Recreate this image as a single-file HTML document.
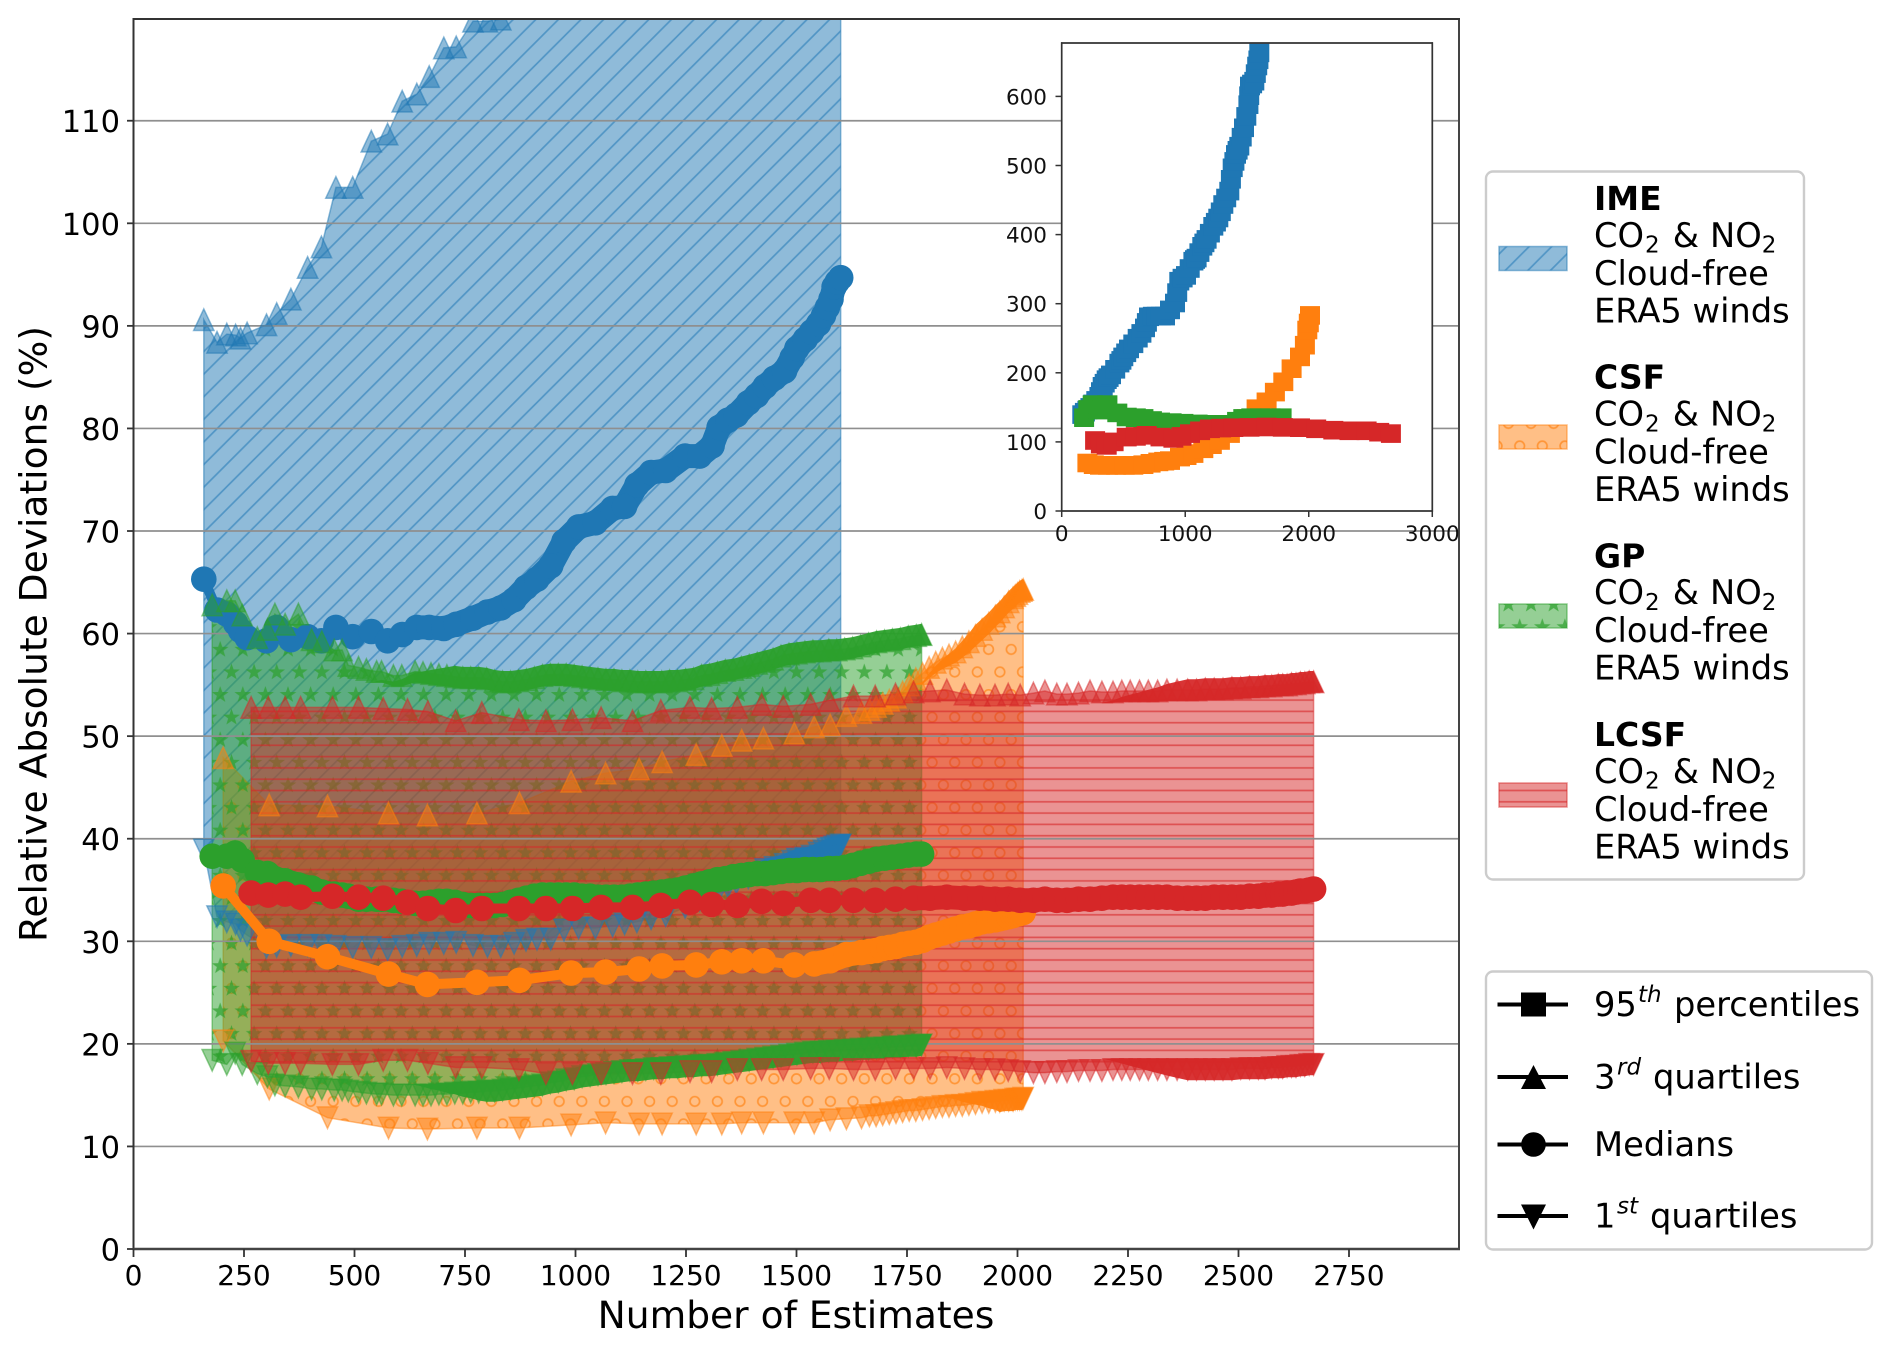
<!DOCTYPE html>
<html lang="en">
<head>
<meta charset="utf-8">
<title>Relative Absolute Deviations vs Number of Estimates</title>
<style>
html,body{margin:0;padding:0;background:#fff;}
svg{display:block;font-family:"DejaVu Sans","Liberation Sans",sans-serif;fill:#000;}
.tick-x{font-size:28px;}
.tick-y{font-size:30.5px;}
.inset-tick{font-size:21.5px;fill:#111;}
.axis-title{font-size:37.6px;}
.leg{font-size:33.7px;}
.leg-b{font-size:33px;font-weight:bold;}
.sub{font-size:23px;}
.sup{font-size:23px;font-style:italic;}
</style>
</head>
<body>
<svg id="chart" xmlns="http://www.w3.org/2000/svg" width="1892" height="1348" viewBox="0 0 1892 1348">
<defs>
<clipPath id="main-clip"><rect x="133.5" y="19" width="1326" height="1230"/></clipPath>
<clipPath id="inset-clip"><rect x="1061.7" y="43" width="370.6" height="468"/></clipPath>
<pattern id="hatch-ime" patternUnits="userSpaceOnUse" width="22.6" height="22.6" x="0" y="12.9">
<path d="M-3 25.6L25.6 -3M-3 3L3 -3M19.6 25.6L25.6 19.6" stroke="#1f77b4" stroke-opacity=".55" stroke-width="1.7" fill="none"/>
</pattern>
<pattern id="hatch-csf" patternUnits="userSpaceOnUse" width="22.6" height="45.2" x="853" y="660.7">
<g fill="none" stroke="#ff7f0e" stroke-opacity=".65" stroke-width="1.7">
<circle cx="11.3" cy="11.3" r="4.8"/><circle cx="0" cy="33.9" r="4.8"/><circle cx="22.6" cy="33.9" r="4.8"/>
</g>
</pattern>
<pattern id="hatch-gp" patternUnits="userSpaceOnUse" width="22.6" height="45.2" x="853" y="660.7">
<g fill="#2ca02c" fill-opacity=".7">
<path transform="translate(11.3,11.3) scale(1.15)" d="M0 -7.5L1.8 -2.3L7.3 -2.2L2.9 1.1L4.5 6.4L0 3.3L-4.5 6.4L-2.9 1.1L-7.3 -2.2L-1.8 -2.3Z"/>
<path transform="translate(0,33.9) scale(1.15)" d="M0 -7.5L1.8 -2.3L7.3 -2.2L2.9 1.1L4.5 6.4L0 3.3L-4.5 6.4L-2.9 1.1L-7.3 -2.2L-1.8 -2.3Z"/>
<path transform="translate(22.6,33.9) scale(1.15)" d="M0 -7.5L1.8 -2.3L7.3 -2.2L2.9 1.1L4.5 6.4L0 3.3L-4.5 6.4L-2.9 1.1L-7.3 -2.2L-1.8 -2.3Z"/>
</g>
</pattern>
<pattern id="hatch-lcsf" patternUnits="userSpaceOnUse" width="22.6" height="11.3" x="0" y="739.65">
<path d="M0 5.65H22.6" stroke="#d62728" stroke-opacity=".6" stroke-width="1.6"/>
</pattern>
</defs>

<rect x="0" y="0" width="1892" height="1348" fill="#fff"/>
<g id="fills" clip-path="url(#main-clip)"></g>
<g id="grid"></g>
<g id="lines" clip-path="url(#main-clip)"></g>
<g id="axes"></g>

<text class="axis-title" x="796" y="1328" text-anchor="middle">Number of Estimates</text>
<text class="axis-title" transform="translate(46.6,634) rotate(-90)" text-anchor="middle">Relative Absolute Deviations (%)</text>

<g id="inset">
<rect x="1061.7" y="43" width="370.6" height="468" fill="#fff"/>
<g id="inset-marks" clip-path="url(#inset-clip)"></g>
<g id="inset-axes"></g>
</g>

<g>
<rect x="1486" y="171.5" width="318" height="708" rx="7" fill="#fff" stroke="#ccc" stroke-width="2.4"/>

<g>
<rect x="1499" y="246.5" width="68" height="24" fill="#1f77b4" fill-opacity=".5" stroke="#1f77b4" stroke-opacity=".5" stroke-width="1.5"/>
<rect x="1499" y="246.5" width="68" height="24" fill="url(#hatch-ime)"/>
<text class="leg-b" x="1594" y="210">IME</text>
<text class="leg" x="1594" y="247"><tspan>CO</tspan><tspan class="sub" x="1645" y="252.7">2</tspan><tspan x="1672.7" y="247">&amp;</tspan><tspan x="1710" y="247">NO</tspan><tspan class="sub" x="1761.7" y="252.7">2</tspan></text>
<text class="leg" x="1594" y="285">Cloud-free</text>
<text class="leg" x="1594" y="322.5">ERA5 winds</text>
</g>

<g>
<rect x="1499" y="425" width="68" height="24" fill="#ff7f0e" fill-opacity=".5" stroke="#ff7f0e" stroke-opacity=".5" stroke-width="1.5"/>
<rect x="1499" y="425" width="68" height="24" fill="url(#hatch-csf)"/>
<text class="leg-b" x="1594" y="388.6">CSF</text>
<text class="leg" x="1594" y="425.6"><tspan>CO</tspan><tspan class="sub" x="1645" y="431.3">2</tspan><tspan x="1672.7" y="425.6">&amp;</tspan><tspan x="1710" y="425.6">NO</tspan><tspan class="sub" x="1761.7" y="431.3">2</tspan></text>
<text class="leg" x="1594" y="463.6">Cloud-free</text>
<text class="leg" x="1594" y="501.1">ERA5 winds</text>
</g>

<g>
<rect x="1499" y="604" width="68" height="24" fill="#2ca02c" fill-opacity=".5" stroke="#2ca02c" stroke-opacity=".5" stroke-width="1.5"/>
<rect x="1499" y="604" width="68" height="24" fill="url(#hatch-gp)"/>
<text class="leg-b" x="1594" y="567.6">GP</text>
<text class="leg" x="1594" y="604.2"><tspan>CO</tspan><tspan class="sub" x="1645" y="609.9">2</tspan><tspan x="1672.7" y="604.2">&amp;</tspan><tspan x="1710" y="604.2">NO</tspan><tspan class="sub" x="1761.7" y="609.9">2</tspan></text>
<text class="leg" x="1594" y="642.2">Cloud-free</text>
<text class="leg" x="1594" y="679.7">ERA5 winds</text>
</g>

<g>
<rect x="1499" y="783" width="68" height="24" fill="#d62728" fill-opacity=".5" stroke="#d62728" stroke-opacity=".5" stroke-width="1.5"/>
<rect x="1499" y="783" width="68" height="24" fill="url(#hatch-lcsf)"/>
<text class="leg-b" x="1594" y="745.8">LCSF</text>
<text class="leg" x="1594" y="782.8"><tspan>CO</tspan><tspan class="sub" x="1645" y="788.5">2</tspan><tspan x="1672.7" y="782.8">&amp;</tspan><tspan x="1710" y="782.8">NO</tspan><tspan class="sub" x="1761.7" y="788.5">2</tspan></text>
<text class="leg" x="1594" y="820.8">Cloud-free</text>
<text class="leg" x="1594" y="858.3">ERA5 winds</text>
</g>
</g>

<g>
<rect x="1486" y="971.5" width="386" height="278" rx="7" fill="#fff" stroke="#ccc" stroke-width="2.4"/>

<g>
<path d="M1497.5 1004.5H1568" stroke="#000" stroke-width="4"/>
<rect x="1521" y="992.5" width="25" height="24" fill="#000"/>
<text class="leg" x="1594" y="1016"><tspan>95</tspan><tspan class="sup" x="1638" y="1002">th</tspan><tspan x="1674" y="1016">percentiles</tspan></text>
</g>
<g>
<path d="M1497.5 1077H1568" stroke="#000" stroke-width="4"/>
<path d="M1533.5 1065L1546 1089H1521Z" fill="#000"/>
<text class="leg" x="1594" y="1088.5"><tspan>3</tspan><tspan class="sup" x="1617" y="1074.5">rd</tspan><tspan x="1653" y="1088.5">quartiles</tspan></text>
</g>
<g>
<path d="M1497.5 1144.5H1568" stroke="#000" stroke-width="4"/>
<circle cx="1533.5" cy="1144.5" r="12.3" fill="#000"/>
<text class="leg" x="1594" y="1156">Medians</text>
</g>
<g>
<path d="M1497.5 1216H1568" stroke="#000" stroke-width="4"/>
<path d="M1521 1204.5H1546L1533.5 1229.5Z" fill="#000"/>
<text class="leg" x="1594" y="1227.5"><tspan>1</tspan><tspan class="sup" x="1617" y="1213.5">st</tspan><tspan x="1650" y="1227.5">quartiles</tspan></text>
</g>
</g>
</svg>

<script>
// ---- axis ticks ----
const xTickValues = [0,250,500,750,1000,1250,1500,1750,2000,2250,2500,2750];
const yTickValues = [0,10,20,30,40,50,60,70,80,90,100,110];
const insetXTicks = [0,1000,2000,3000];
const insetYTicks = [0,100,200,300,400,500,600];

// ---- IME ----
const imeX = [159,189,211,231,242,257,301,324,356,394,425,458,496,538,575,608,641,669,702,730,768,801,831,861,888,913,944,974,1007,1045,1084,1111,1139,1171,1204,1248,1281,1309,1325,1345,1364,1391,1410,1429,1450,1473,1490,1501,1520,1534,1550,1561,1570,1578,1585,1592,1600];
const imeQ3 = [90.6,88.4,89.2,89.1,88.8,89.3,90.1,91.2,92.6,95.7,97.7,103.5,103.5,108,108.7,111.9,112.6,114.3,117.1,117.2,119.7,119.7,119.9,121,123,125,127,129,131,134,137,139,141,144,147,150,153,155,157,159,161,163,165,167,169,172,174,175,178,180,182,184,185,186,187,188,189];
const imeMedian = [65.3,62.3,61.9,61,60.3,59.6,59.3,60.6,59.4,59.7,59.3,60.6,59.7,60.2,59.3,59.9,60.6,60.6,60.5,60.9,61.5,62.1,62.5,63.3,64.5,65.3,66.6,69,70.4,70.8,72.2,72.4,74.5,75.7,75.9,77.3,77.3,78.3,80.1,80.8,81.3,82.5,83.2,84.1,84.9,85.6,86.9,87.8,88.7,89.4,90.2,91,91.8,92.6,93.8,94.3,94.7];
const imeQ1 = [38.9,32.4,31.9,31.7,31.1,30.6,29.4,29.5,29.6,29.6,29.6,29.5,29.4,29.4,29.2,29.5,29.6,29.8,29.8,29.9,29.6,29.5,29.5,29.8,30.1,30.2,30.2,31.1,31.3,31.3,31.5,31.7,31.9,32.2,32.5,33.3,34,34.6,35,35.3,35.7,36.2,36.6,37,37.2,37.5,37.8,38,38.1,38.3,38.6,38.8,39,39.1,39.2,39.3,39.4];

// ---- CSF ----
const csfX = [203,307,439,577,665,777,873,990,1068,1144,1196,1273,1331,1376,1425,1495,1540,1576,1613,1647,1665,1680,1695,1710,1725,1740,1755,1770,1785,1800,1815,1830,1845,1860,1875,1890,1905,1920,1935,1950,1960,1970,1980,1990,1995,2000,2005,2010,2013];
const csfQ3 = [47.9,43.3,43.2,42.5,42.3,42.5,43.5,45.6,46.4,46.8,47.5,48.2,49.1,49.6,49.8,50.3,50.9,51.1,52,52.3,52.6,52.9,53.2,53.5,53.8,54.3,55,55.6,56.1,56.7,57.2,57.6,57.9,58.2,58.7,59.2,59.8,60.4,61,61.7,62.1,62.6,63.1,63.5,63.7,63.9,64.1,64.2,64.3];
const csfMedian = [35.4,30,28.5,26.8,25.8,26,26.2,26.9,27,27.3,27.6,27.7,28,28.1,28.1,27.7,27.8,28.1,28.7,28.9,29,29.1,29.3,29.4,29.5,29.7,29.8,29.9,30.1,30.4,30.6,30.8,31,31.2,31.4,31.5,31.7,31.9,32,32.1,32.2,32.3,32.4,32.5,32.6,32.7,32.7,32.8,32.8];
const csfQ1 = [20.3,15.6,12.8,11.8,11.7,11.8,11.8,12.1,12.3,12.2,12.2,12.2,12.2,12.3,12.3,12.3,12.3,12.6,12.7,12.8,13,13,13.1,13.2,13.3,13.4,13.5,13.5,13.6,13.7,13.8,13.9,13.9,14,14,14.1,14.2,14.3,14.3,14.4,14.4,14.5,14.5,14.5,14.6,14.6,14.6,14.6,14.7];

// ---- GP ----
const gpX = [178,211,230,246,280,303,320,343,373,403,426,454,472,486,509,527,550,561,588,607,637,655,673,691,709,727,745,763,781,799,817,835,853,871,889,907,925,943,961,979,997,1015,1033,1051,1069,1087,1105,1123,1141,1159,1177,1195,1213,1231,1249,1267,1285,1303,1321,1339,1357,1375,1393,1411,1429,1447,1465,1483,1501,1519,1537,1555,1573,1591,1609,1627,1645,1663,1681,1699,1717,1735,1753,1771,1783];
const gpQ3 = [62.8,63.2,63.2,61.8,59.6,60.4,61.9,60.9,61.9,59.4,59.2,58.4,58.4,56.9,56.7,56.5,56.3,56.3,55.9,55.9,56.3,56.2,56.1,56,55.9,55.8,55.7,55.7,55.7,55.6,55.4,55.3,55.3,55.4,55.5,55.7,55.9,56,56,56,55.9,55.8,55.7,55.6,55.5,55.5,55.4,55.4,55.3,55.3,55.3,55.3,55.4,55.4,55.5,55.6,55.9,56,56.2,56.4,56.5,56.7,56.9,57.1,57.3,57.5,57.8,58,58.1,58.2,58.3,58.3,58.4,58.4,58.5,58.6,58.8,59,59.2,59.3,59.4,59.5,59.7,59.8,59.9];
const gpMedian = [38.3,38.3,38.6,37.9,36.7,36.6,36.1,35.9,35.5,35.2,34.8,34.6,34.5,34.4,34.1,34.1,34.1,34.1,34,33.9,33.7,33.7,33.8,33.9,33.9,33.8,33.6,33.5,33.5,33.5,33.5,33.6,33.8,34,34.2,34.4,34.5,34.5,34.5,34.5,34.5,34.4,34.4,34.3,34.3,34.3,34.3,34.4,34.5,34.6,34.7,34.8,34.9,35,35.2,35.4,35.6,35.8,36,36.1,36.3,36.4,36.5,36.6,36.6,36.7,36.8,36.9,36.9,37,37,37,37.1,37.1,37.2,37.4,37.6,37.8,38,38.1,38.2,38.3,38.4,38.5,38.5];
const gpQ1 = [18.4,18,19.1,18,17.1,16.8,16,15.9,15.8,15.6,15.6,15.5,15.5,15.4,15.3,15.2,15.1,15.1,15,15,15,15,15,15.1,15.1,15.2,15.2,15.3,15.3,15.4,15.4,15.5,15.6,15.7,15.8,15.9,16,16.2,16.3,16.5,16.6,16.8,16.9,17,17.1,17.2,17.3,17.4,17.4,17.5,17.6,17.6,17.7,17.7,17.8,17.8,17.9,17.9,18,18.1,18.2,18.3,18.4,18.5,18.6,18.7,18.8,18.9,19,19.1,19.2,19.2,19.3,19.3,19.4,19.4,19.5,19.5,19.6,19.6,19.7,19.7,19.8,19.8,19.9];

// ---- LCSF ----
const lcsfX = [266,305,343,378,450,509,565,620,666,729,788,872,933,993,1058,1129,1193,1259,1308,1366,1421,1470,1532,1574,1629,1678,1724,1765,1802,1840,1880,1915,1949,1979,2006,2036,2062,2089,2112,2138,2164,2191,2216,2236,2255,2276,2296,2317,2338,2361,2385,2405,2425,2445,2465,2485,2505,2525,2545,2560,2575,2590,2600,2610,2620,2630,2640,2650,2660,2670];
const lcsfQ3 = [52.8,52.8,52.8,52.8,52.8,52.8,52.7,52.6,52.4,51.5,52.3,51.6,51.5,51.6,51.8,51.5,52.5,52.8,52.7,52.8,53.1,52.9,53.1,53.5,53.9,53.9,54.1,54.3,54.4,54.5,54.1,54,54,54.1,54,54.2,54.4,54.1,54.1,54.2,54.4,54.3,54.3,54.4,54.4,54.4,54.4,54.4,54.5,54.5,54.5,54.5,54.6,54.6,54.6,54.7,54.7,54.8,54.8,54.9,54.9,55,55,55,55.1,55.1,55.2,55.2,55.3,55.3];
const lcsfMedian = [34.7,34.5,34.6,34.3,34.4,34.3,34.2,33.8,33.2,33,33.2,33.2,33.2,33.2,33.3,33.3,33.5,33.8,33.6,33.5,33.9,33.7,34,34,34,34,34.1,34.2,34.2,34.3,34.2,34.2,34.1,34.1,34,34,34.1,34,34,34.1,34.1,34.2,34.3,34.3,34.3,34.3,34.3,34.3,34.3,34.2,34.2,34.2,34.2,34.3,34.3,34.3,34.3,34.4,34.4,34.5,34.5,34.6,34.6,34.7,34.7,34.8,34.9,34.9,35,35.1];
const lcsfQ1 = [18.3,18.1,18.1,18.1,18,18,18.4,18.4,18.1,17.7,17.7,17.5,17.1,17.1,17.1,17.1,17.1,17.3,17.3,17.5,17.5,17.5,17.6,17.6,17.5,17.5,17.6,17.6,17.6,17.7,17.6,17.5,17.5,17.4,17.3,17.2,17.2,17.3,17.3,17.4,17.4,17.4,17.5,17.5,17.5,17.5,17.5,17.5,17.5,17.5,17.5,17.5,17.5,17.5,17.5,17.5,17.6,17.6,17.6,17.6,17.7,17.7,17.7,17.8,17.8,17.8,17.9,17.9,18,18];

// ---- Inset: 95th percentiles ----
const inIMEX = [167,188,208,232,256,280,305,318,332,348,364,380,399,433,467,483,499,522,545,580,615,645,674,690,707,738,770,803,836,877,917,935,952,979,1006,1036,1066,1079,1092,1115,1138,1155,1173,1200,1227,1248,1268,1288,1308,1332,1357,1370,1384,1398,1411,1424,1438,1457,1476,1494,1511,1518,1524,1541,1559,1571,1583,1592,1600,1600];
const inIMEV = [139.5,143,146,150,155,160,166,173,180.5,185,190,193,197,205,214,218,223,229,234.6,242,250,257,265,273,281,282,282,282,282,291,301,316,332.5,337,341,351,361.5,364,366,374,383,388,393,402,412,418,424,433,443.5,453,463,480,496.6,506,516,522,528,541,554.5,571,588,601,615,618,622,633,644,653,663,700];
const inCSFX = [208,260,310,375,440,510,580,661,720,782,830,877,958,1010,1066,1146,1215,1281,1362,1430,1497,1578,1659,1726,1794,1861,1929,1969,1988,2000,2010];
const inCSFV = [69.5,67,66,66,66,66,66,67,69,71,72,73,78,80,83,90,96,102,112,123,134,148,158,172,187,206,223,240,262,272,283];
const inGPX = [181,215,251,297,333,370,450,526,600,661,730,796,890,985,1100,1227,1300,1362,1420,1470,1535,1605,1690,1780];
const inGPV = [135,147,154,146,150,154,142,136,135,134,131,129,128,127,126,125.5,125.5,125.5,130,134,135,135,135,135];
const inLCSFX = [270,317,364,420,526,600,688,800,904,970,1039,1120,1200,1290,1389,1520,1659,1790,1929,2060,2199,2330,2468,2570,2665];
const inLCSFV = [102,97,95,100,107,108,109.5,107,105,108,112,116,119,120,120.6,121,121.6,121,120.6,119,117,116,116,114,112];

const NS = 'http://www.w3.org/2000/svg';
const X = v => 133.5 + v * 0.442;
const Y = v => 1249 - v * 10.257;
const IX = v => 1061.7 + v * 0.12353;
const IY = v => 511 - v * 0.691;
const TRI_W = 10.2;
const TRI_H = 10.8;

function make(tag, parent) {
  const el = document.createElementNS(NS, tag);
  parent.appendChild(el);
  return el;
}
function areaPath(xs, upper, lower) {
  let d = '';
  xs.forEach((x, i) => { d += (i ? 'L' : 'M') + X(x).toFixed(1) + ' ' + Y(upper[i]).toFixed(1); });
  for (let i = xs.length - 1; i >= 0; i--) { d += 'L' + X(xs[i]).toFixed(1) + ' ' + Y(lower[i]).toFixed(1); }
  return d + 'Z';
}
function drawFill(name, color, hatch, xs, upper, lower) {
  const g = document.getElementById('fills');
  const d = areaPath(xs, upper, lower);
  const band = make('path', g);
  
  
  band.setAttribute('d', d);
  band.setAttribute('fill', color);
  band.setAttribute('fill-opacity', '0.5');
  band.setAttribute('stroke', color);
  band.setAttribute('stroke-opacity', '0.5');
  band.setAttribute('stroke-width', '1.5');
  const pat = make('path', g);
  
  
  pat.setAttribute('d', d);
  pat.setAttribute('fill', 'url(#' + hatch + ')');
}
// Where markers sit almost on top of each other they merge into an opaque band,
// which thickens gradually as the point spacing tightens.
function drawMergedTriangles(g, name, color, xs, vals, up, solidFrom) {
  const s = up ? 1 : -1;
  const idx = [];
  xs.forEach((x, i) => { if (x >= solidFrom) idx.push(i); });
  if (idx.length < 2) return;
  const first = idx[0];
  const last = idx[idx.length - 1];
  let d = 'M' + (X(xs[first]) - TRI_W).toFixed(1) + ' ' + (Y(vals[first]) + s * TRI_H).toFixed(1);
  idx.forEach((i, k) => {
    const f = Math.min(1, (k + 1) / 9);
    d += 'L' + X(xs[i]).toFixed(1) + ' ' + (Y(vals[i]) + s * TRI_H - s * 2 * TRI_H * f).toFixed(1);
  });
  d += 'L' + (X(xs[last]) + TRI_W).toFixed(1) + ' ' + (Y(vals[last]) + s * TRI_H).toFixed(1);
  for (let k = idx.length - 1; k >= 0; k--) { d += 'L' + X(xs[idx[k]]).toFixed(1) + ' ' + (Y(vals[idx[k]]) + s * TRI_H).toFixed(1); }
  const band = make('path', g);
  
  
  band.setAttribute('d', d + 'Z');
  band.setAttribute('fill', color);
  band.setAttribute('fill-opacity', '0.94');
}
function drawTriangles(name, color, xs, vals, up, solidFrom) {
  const g = make('g', document.getElementById('lines'));
  
  
  drawMergedTriangles(g, name, color, xs, vals, up, solidFrom);
  xs.forEach((x, i) => {
    const cx = X(x), cy = Y(vals[i]), s = up ? 1 : -1;
    const tri = make('path', g);
    
    
    tri.setAttribute('d', 'M' + cx.toFixed(1) + ' ' + (cy - s * TRI_H).toFixed(1) + 'L' + (cx + TRI_W).toFixed(1) + ' ' + (cy + s * TRI_H).toFixed(1) + 'L' + (cx - TRI_W).toFixed(1) + ' ' + (cy + s * TRI_H).toFixed(1) + 'Z');
    tri.setAttribute('fill', color);
    tri.setAttribute('fill-opacity', '0.5');
    tri.setAttribute('stroke', color);
    tri.setAttribute('stroke-opacity', '0.5');
    tri.setAttribute('stroke-width', '1.5');
  });
}
function drawMedian(name, color, xs, vals, solidFrom) {
  const g = make('g', document.getElementById('lines'));
  
  
  const line = make('polyline', g);
  
  
  line.setAttribute('points', xs.map((x, i) => X(x).toFixed(1) + ',' + Y(vals[i]).toFixed(1)).join(' '));
  line.setAttribute('fill', 'none');
  line.setAttribute('stroke', color);
  line.setAttribute('stroke-width', '10');
  const merged = make('polyline', g);
  
  
  merged.setAttribute('points', xs.map((x, i) => x >= solidFrom ? X(x).toFixed(1) + ',' + Y(vals[i]).toFixed(1) : '').join(' '));
  merged.setAttribute('fill', 'none');
  merged.setAttribute('stroke', color);
  merged.setAttribute('stroke-width', '24');
  merged.setAttribute('stroke-linejoin', 'round');
  xs.forEach((x, i) => {
    const dot = make('circle', g);
    
    
    dot.setAttribute('cx', X(x).toFixed(1));
    dot.setAttribute('cy', Y(vals[i]).toFixed(1));
    dot.setAttribute('r', '12.8');
    dot.setAttribute('fill', color);
  });
}
function drawMethod(name, color, xs, q3, med, q1, q3From, medFrom, q1From) {
  drawTriangles(name + '-third-quartile', color, xs, q3, true, q3From);
  drawMedian(name + '-median', color, xs, med, medFrom);
  drawTriangles(name + '-first-quartile', color, xs, q1, false, q1From);
}
function drawInset(name, color, xs, vals) {
  const g = make('g', document.getElementById('inset-marks'));
  
  
  xs.forEach((x, i) => {
    const sq = make('rect', g);
    
    
    sq.setAttribute('x', (IX(x) - 10).toFixed(1));
    sq.setAttribute('y', (IY(vals[i]) - 9.3).toFixed(1));
    sq.setAttribute('width', '20');
    sq.setAttribute('height', '18.6');
    sq.setAttribute('fill', color);
  });
}
function segment(parent, name, x1, y1, x2, y2, color, width) {
  const l = make('line', parent);
  
  
  l.setAttribute('x1', x1);
  l.setAttribute('y1', y1);
  l.setAttribute('x2', x2);
  l.setAttribute('y2', y2);
  l.setAttribute('stroke', color);
  l.setAttribute('stroke-width', width);
}
function label(parent, name, cls, x, y, anchor, str) {
  const t = make('text', parent);
  
  
  t.setAttribute('class', cls);
  t.setAttribute('x', x);
  t.setAttribute('y', y);
  t.setAttribute('text-anchor', anchor);
  t.textContent = str;
}

// Fills first, gridlines above them, then the quantile series.
drawFill('ime', '#1f77b4', 'hatch-ime', imeX, imeQ3, imeQ1);
drawFill('csf', '#ff7f0e', 'hatch-csf', csfX, csfQ3, csfQ1);
drawFill('gp', '#2ca02c', 'hatch-gp', gpX, gpQ3, gpQ1);
drawFill('lcsf', '#d62728', 'hatch-lcsf', lcsfX, lcsfQ3, lcsfQ1);

const gridG = document.getElementById('grid');
yTickValues.forEach(v => {
  if (v > 0) segment(gridG, 'y-gridline', 133.5, Y(v), 1459, Y(v), '#8f8f8f', 1.7);
});

drawMethod('ime', '#1f77b4', imeX, imeQ3, imeMedian, imeQ1, 1400, 640, 1400);
drawMethod('csf', '#ff7f0e', csfX, csfQ3, csfMedian, csfQ1, 1780, 1540, 1840);
drawMethod('gp', '#2ca02c', gpX, gpQ3, gpMedian, gpQ1, 560, 300, 640);
drawMethod('lcsf', '#d62728', lcsfX, lcsfQ3, lcsfMedian, lcsfQ1, 2200, 1750, 2200);

const axesG = document.getElementById('axes');
segment(axesG, 'left-spine', 133.5, 18, 133.5, 1250, '#333', 2);
segment(axesG, 'right-spine', 1459, 18, 1459, 1250, '#444', 2);
segment(axesG, 'top-spine', 132.5, 19, 1460, 19, '#333', 2);
segment(axesG, 'bottom-spine', 132.5, 1249, 1460, 1249, '#444', 2.4);
xTickValues.forEach(v => {
  segment(axesG, 'x-tick', X(v), 1249, X(v), 1257, '#333', 1.8);
  label(axesG, 'x-tick-label', 'tick-x', X(v), 1285, 'middle', String(v));
});
yTickValues.forEach(v => {
  segment(axesG, 'y-tick', 127, Y(v), 133.5, Y(v), '#333', 1.8);
  label(axesG, 'y-tick-label', 'tick-y', 120, Y(v) + 11.5, 'end', String(v));
});

drawInset('inset-ime', '#1f77b4', inIMEX, inIMEV);
drawInset('inset-csf', '#ff7f0e', inCSFX, inCSFV);
drawInset('inset-gp', '#2ca02c', inGPX, inGPV);
drawInset('inset-lcsf', '#d62728', inLCSFX, inLCSFV);

const inAxes = document.getElementById('inset-axes');
segment(inAxes, 'inset-left-spine', 1061.7, 42.2, 1061.7, 511.8, '#333', 1.7);
segment(inAxes, 'inset-right-spine', 1432.3, 42.2, 1432.3, 511.8, '#333', 1.7);
segment(inAxes, 'inset-top-spine', 1061, 43, 1433, 43, '#333', 1.7);
segment(inAxes, 'inset-bottom-spine', 1061, 511, 1433, 511, '#333', 1.7);
insetXTicks.forEach(v => {
  segment(inAxes, 'inset-x-tick', IX(v), 511, IX(v), 517, '#333', 1.5);
  label(inAxes, 'inset-x-tick-label', 'inset-tick', IX(v), 541, 'middle', String(v));
});
insetYTicks.forEach(v => {
  segment(inAxes, 'inset-y-tick', 1055.5, IY(v), 1061.7, IY(v), '#333', 1.5);
  label(inAxes, 'inset-y-tick-label', 'inset-tick', 1047, IY(v) + 8, 'end', String(v));
});
</script>
</body>
</html>
